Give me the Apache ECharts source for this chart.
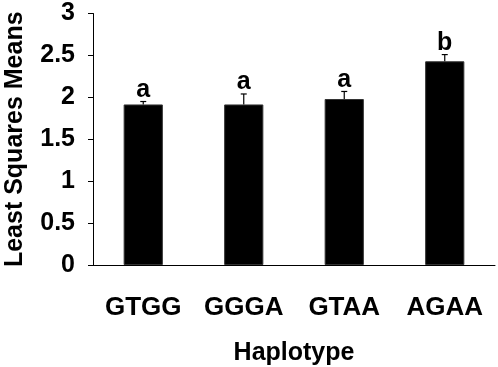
<!DOCTYPE html>
<html>
<head>
<meta charset="utf-8">
<title>Haplotype</title>
<script src="https://cdn.jsdelivr.net/npm/echarts@6/dist/echarts.min.js"></script>
<style>
html, body { margin: 0; padding: 0; background: #fff; }
#chart { width: 498px; height: 367px; }
</style>
</head>
<body>
<div id="chart"></div>
<script>
// data
var haplotypes = ['GTGG', 'GGGA', 'GTAA', 'AGAA'];
var lsMeans = [1.915, 1.915, 1.98, 2.43];
var stdErr = [0.035, 0.125, 0.09, 0.08];
var groups = ['a', 'a', 'a', 'b'];
var yTicks = [0, 0.5, 1, 1.5, 2, 2.5, 3];

var font = 'Liberation Sans, Arial, Helvetica, sans-serif';

var errData = lsMeans.map(function (v, i) { return [i, v, v + stdErr[i], groups[i]]; });

var myChart = echarts.init(document.getElementById('chart'));

var option = {
    animation: false,
    textStyle: { fontFamily: font, color: '#000' },
    grid: { left: 93, right: 3, top: 13.5, bottom: 102, containLabel: false, outerBoundsMode: 'none' },
    xAxis: {
        type: 'category',
        data: haplotypes,
        name: 'Haplotype',
        nameLocation: 'middle',
        nameGap: 76,
        nameTextStyle: { fontSize: 25, fontWeight: 'bold', color: '#000', fontFamily: font },
        axisLine: { lineStyle: { color: '#000', width: 1 } },
        axisTick: { length: 6, lineStyle: { color: '#000' } },
        axisLabel: { interval: 0, hideOverlap: false, margin: 30, fontSize: 26, fontWeight: 'bold', color: '#000', fontFamily: font }
    },
    yAxis: {
        type: 'value',
        min: 0,
        max: 3,
        interval: 0.5,
        name: 'Least Squares Means',
        nameLocation: 'middle',
        nameGap: 65,
        nameTextStyle: { fontSize: 25, fontWeight: 'bold', color: '#000', fontFamily: font },
        axisLine: { show: true, lineStyle: { color: '#000', width: 1 } },
        axisTick: { show: true, length: 5, lineStyle: { color: '#000' } },
        splitLine: { show: false },
        axisLabel: {
            margin: 18, fontSize: 25, fontWeight: 'bold', color: '#000', fontFamily: font,
            formatter: function (v) { return yTicks.indexOf(v) >= 0 ? String(v) : ''; }
        }
    },
    series: [
        {
            type: 'bar',
            data: lsMeans,
            barWidth: '39%',
            itemStyle: { color: '#000', borderColor: '#333', borderWidth: 1 }
        },
        {
            type: 'custom',
            data: errData,
            z: 5,
            renderItem: function (params, api) {
                var x = api.value(0);
                var low = api.coord([x, api.value(1)]);
                var high = api.coord([x, api.value(2)]);
                var cap = 3;
                return {
                    type: 'group',
                    children: [
                        { type: 'line', shape: { x1: low[0], y1: low[1], x2: high[0], y2: high[1] },
                          style: { stroke: '#000', lineWidth: 1.2 } },
                        { type: 'line', shape: { x1: high[0] - cap, y1: high[1], x2: high[0] + cap, y2: high[1] },
                          style: { stroke: '#000', lineWidth: 1.2 } },
                        { type: 'text', x: high[0], y: high[1] + 1,
                          style: { text: api.value(3), fontSize: 25, fontWeight: 'bold', fontFamily: font,
                                   fill: '#000', align: 'center', verticalAlign: 'bottom' } }
                    ]
                };
            }
        }
    ]
};

myChart.setOption(option);
window.onresize = function () {
    myChart.resize();
};
</script>
</body>
</html>
